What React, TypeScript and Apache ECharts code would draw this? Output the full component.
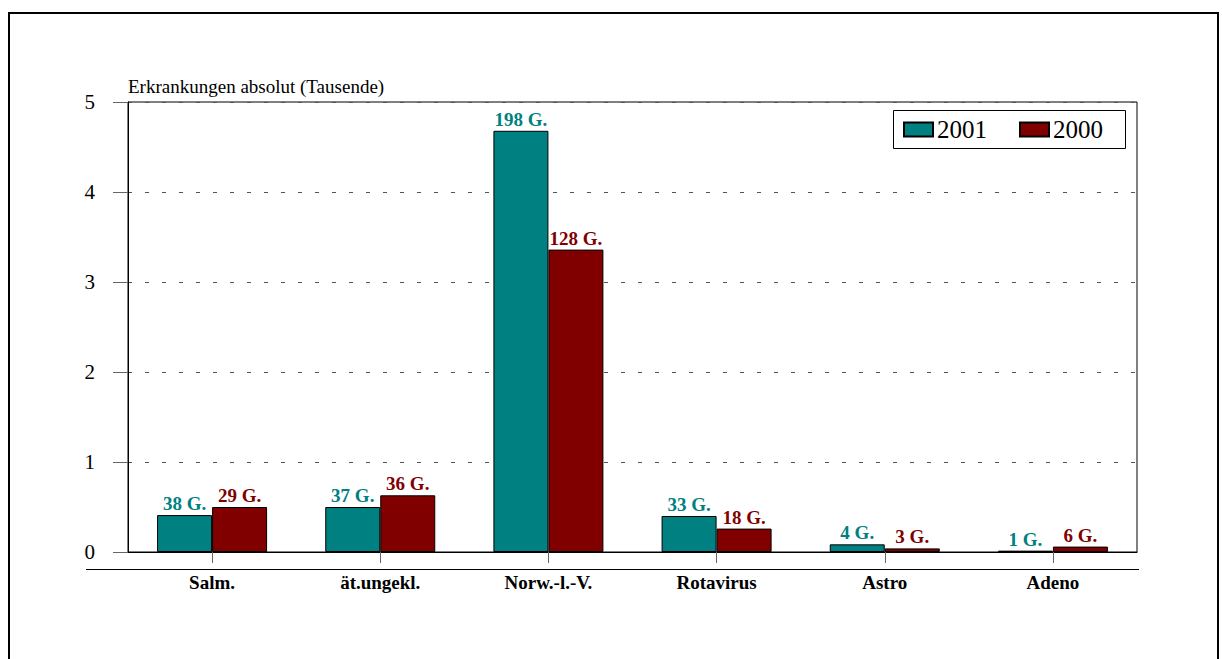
import React, { useEffect, useRef } from "react";
import * as echarts from "echarts";

const categories = ["Salm.", "ät.ungekl.", "Norw.-l.-V.", "Rotavirus", "Astro", "Adeno"];
const values2001 = [0.41, 0.5, 4.68, 0.4, 0.085, 0.015];
const values2000 = [0.5, 0.63, 3.36, 0.26, 0.04, 0.06];
const labels2001 = ["38 G.", "37 G.", "198 G.", "33 G.", "4 G.", "1 G."];
const labels2000 = ["29 G.", "36 G.", "128 G.", "18 G.", "3 G.", "6 G."];
const yTicks = [0, 1, 2, 3, 4, 5];
const yTitle = "Erkrankungen absolut (Tausende)";

const FONT = "Liberation Serif";
const TEAL = "#008080";
const RED = "#800000";

export default function App() {
  const ref = useRef<HTMLDivElement>(null);
  useEffect(() => {
    if (!ref.current) return;
    const chart = echarts.init(ref.current, null, { renderer: "svg" });
    const mkLabel = (labels: string[], color: string) => ({
      show: true,
      position: "top",
      distance: 2,
      formatter: (p: any) => labels[p.dataIndex],
      color,
      fontSize: 19,
      fontWeight: "bold",
      fontFamily: FONT,
    });
    chart.setOption({
      animation: false,
      backgroundColor: "#ffffff",
      textStyle: { fontFamily: FONT },
      grid: {
        left: 128,
        top: 102,
        width: 1009,
        height: 450,
        show: true,
        borderColor: "#000",
        borderWidth: 1,
        backgroundColor: "transparent",
      },
      legend: {
        left: 903,
        top: 117,
        padding: 0,
        itemWidth: 29,
        itemHeight: 14,
        itemGap: 32,
        icon: "rect",
        textStyle: { fontSize: 25, color: "#000", fontFamily: FONT, padding: [0, 0, 0, -1] },
        data: ["2001", "2000"],
      },
      xAxis: {
        type: "category",
        data: categories,
        axisLine: { show: true, lineStyle: { color: "#000", width: 1 } },
        axisTick: { show: true, alignWithLabel: true, length: 11, lineStyle: { color: "#666" } },
        axisLabel: {
          margin: 21,
          fontSize: 19,
          fontWeight: "bold",
          color: "#000",
          fontFamily: FONT,
        },
      },
      yAxis: {
        type: "value",
        min: yTicks[0],
        max: yTicks[yTicks.length - 1],
        interval: 1,
        axisLine: { show: true, lineStyle: { color: "#000", width: 1 } },
        axisTick: { show: true, length: 15, lineStyle: { color: "#666" } },
        axisLabel: { margin: 33, fontSize: 21, color: "#000", fontFamily: FONT },
        splitLine: {
          show: true,
          lineStyle: { color: "#555", type: [4, 13], width: 1 },
        },
      },
      series: [
        {
          name: "2001",
          type: "bar",
          data: values2001,
          barWidth: 55,
          barGap: "0%",
          itemStyle: { color: TEAL, borderColor: "#000", borderWidth: 1 },
          label: mkLabel(labels2001, TEAL),
        },
        {
          name: "2000",
          type: "bar",
          data: values2000,
          barWidth: 55,
          barGap: "0%",
          itemStyle: { color: RED, borderColor: "#000", borderWidth: 1 },
          label: mkLabel(labels2000, RED),
        },
      ],
      graphic: [
        {
          type: "rect",
          shape: { x: 9, y: 13, width: 1209, height: 700 },
          style: { fill: "none", stroke: "#000", lineWidth: 2 },
          silent: true,
        },
        {
          type: "text",
          x: 128,
          y: 86,
          style: {
            text: yTitle,
            fontSize: 19,
            fontFamily: FONT,
            fill: "#000",
            textAlign: "left",
            textVerticalAlign: "middle",
          },
        },
        {
          type: "line",
          shape: { x1: 86, y1: 569.5, x2: 1139, y2: 569.5 },
          style: { stroke: "#000", lineWidth: 1 },
        },
        {
          type: "rect",
          shape: { x: 893.5, y: 110.5, width: 232, height: 38 },
          style: { fill: "none", stroke: "#000", lineWidth: 1 },
        },
      ],
    });
    return () => chart.dispose();
  }, []);
  return (
    <div
      ref={ref}
      style={{ position: "absolute", left: 0, top: 0, width: 1222, height: 659 }}
    />
  );
}
